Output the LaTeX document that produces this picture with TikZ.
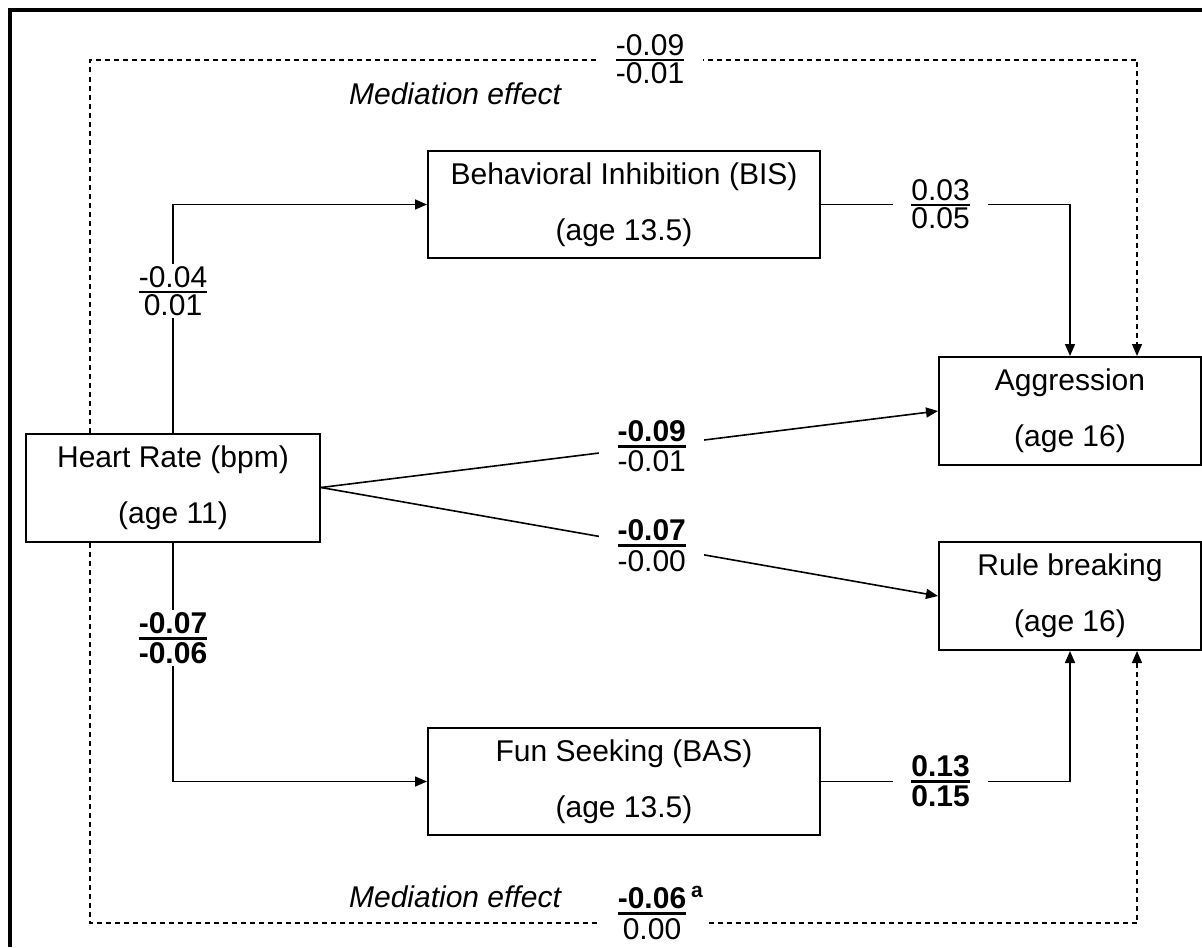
\documentclass[tikz,border=0pt]{standalone}
\usepackage{fix-cm}
\usepackage{amsmath}
\usepackage{fontspec}
\setmainfont{Liberation Sans}
\usetikzlibrary{arrows.meta}

% path coefficient: upper value over lower value
\newcommand{\effect}[3][1pt]{$\genfrac{}{}{#1}{1}{\text{\fontsize{15}{18}\selectfont #2}}{\text{\fontsize{15}{18}\selectfont #3}}$}

\begin{document}
\begin{tikzpicture}[x=0.5pt, y=-0.5pt,
        font=\fontsize{15}{18}\selectfont,
        var/.style={draw, line width=1pt, align=center, inner sep=0pt, minimum height=54pt},
        val/.style={fill=white, inner xsep=8pt, inner ysep=1pt},
        arr/.style={-{Triangle[length=6pt,width=5pt]}, line width=0.8pt},
        medarr/.style={arr, line width=0.7pt, dash pattern=on 2.5pt off 2pt}]
            \useasboundingbox (0,0) rectangle (1202,947);

            % Frame
            \draw[line width=1.8pt] (10,947) -- (10,10) -- (1202,10);

            % Variables
            \node[var, minimum width=147pt] (hr) at (173,487.5) {Heart Rate (bpm)\\[10pt](age 11)};
            \node[var, minimum width=196pt, minimum height=53.5pt] (bis) at (624,204.5) {Behavioral Inhibition (BIS)\\[10pt](age 13.5)};
            \node[var, minimum width=196pt, minimum height=53.5pt] (bas) at (624,781.5) {Fun Seeking (BAS)\\[10pt](age 13.5)};
            \node[var, minimum width=131pt] (agg) at (1070,411) {Aggression\\[10pt](age 16)};
            \node[var, minimum width=131pt] (rb) at (1070,596) {Rule breaking\\[10pt](age 16)};

            % Direct and indirect paths
            \draw[arr] (hr.north) |- node[val, pos=0.31] {\effect{-0.04}{0.01}} (bis.west);
            \draw[arr] (hr.south) |- node[val, pos=0.2] {\effect[1.5pt]{\textbf{-0.07}}{\textbf{-0.06}}} (bas.west);
            \draw[arr] (bis.east) -| node[val, pos=0.24] {\effect{0.03}{0.05}} (agg.north);
            \draw[arr] (bas.east) -| node[val, pos=0.24] {\effect[1.5pt]{\textbf{0.13}}{\textbf{0.15}}} (rb.south);
            \draw[arr] (hr.east) -- node[val, pos=0.536] {\effect[1.5pt]{\textbf{-0.09}}{-0.01}} (agg.west);
            \draw[arr] (hr.east) -- node[val, pos=0.536] {\effect[1.5pt]{\textbf{-0.07}}{-0.00}} (rb.west);

            % Mediation effects
            \coordinate (mtop) at (650,60);
            \coordinate (mbot) at (650,923);
            \draw[medarr] ([xshift=32.5pt]hr.north west) |- (mtop) -| ([xshift=-32.5pt]agg.north east);
            \draw[medarr] ([xshift=32.5pt]hr.south west) |- (mbot) -| ([xshift=-32.5pt]rb.south east);
            \node[val] (mtopval) at (650,59) {\effect{-0.09}{-0.01}};
            \node[val] (mbotval) at (652,913) {\effect[1.5pt]{\textbf{-0.06}\rlap{\,\textsuperscript{\textbf{a}}}}{0.00}};
            \node[font=\fontsize{15}{18}\selectfont\itshape] (mtoptext) at (455,94) {Mediation effect};
            \node[font=\fontsize{15}{18}\selectfont\itshape] (mbottext) at (455,897) {Mediation effect};
        \end{tikzpicture}
\end{document}
